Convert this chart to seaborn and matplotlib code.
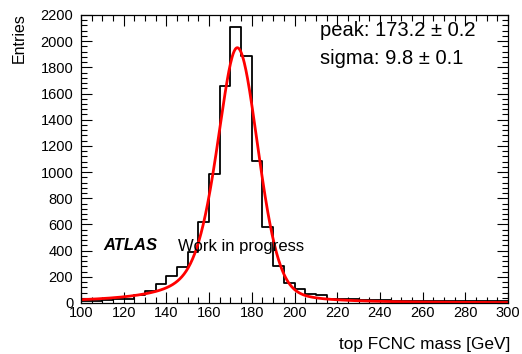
import numpy as np
import pandas as pd
import matplotlib
matplotlib.use("Agg")
import matplotlib.pyplot as plt
import seaborn as sns
from matplotlib.ticker import MultipleLocator

sns.set_theme(style="white")
plt.rcParams['font.family'] = ['Liberation Sans', 'DejaVu Sans']
plt.rcParams['text.color'] = 'black'
plt.rcParams['axes.labelcolor'] = 'black'
plt.rcParams['xtick.color'] = 'black'
plt.rcParams['ytick.color'] = 'black'

# ---- data ----
bin_edges = list(range(100, 305, 5))
bin_counts = [15, 17, 20, 27, 30, 62, 93, 148, 210, 272,
              390, 615, 983, 1660, 2110, 1890, 1087, 583, 285, 150,
              105, 70, 58, 34, 28, 27, 26, 25, 24, 19,
              16, 18, 19, 17, 15, 16, 14, 16, 15, 14]

# fit result (asymmetric pseudo-Voigt)
fit_peak = 173.2
fit_sigma = 9.8
fit_amplitude = 1950
fit_tail_left = 0.54
fit_tail_right = 0.22

peak_text = "peak: 173.2 \u00b1 0.2"
sigma_text = "sigma: 9.8 \u00b1 0.1"
x_label = "top FCNC mass [GeV]"
y_label = "Entries"

centers = [e + 2.5 for e in bin_edges[:-1]]
hist_df = pd.DataFrame({"mass": centers, "count": bin_counts})

xf = np.linspace(100, 300, 801)
gam = fit_sigma * np.sqrt(2 * np.log(2))
dx = xf - fit_peak
G = np.exp(-dx**2 / (2 * fit_sigma**2))
L = 1.0 / (1.0 + (dx / gam)**2)
eta = np.where(dx < 0, fit_tail_left, fit_tail_right)
fit_df = pd.DataFrame({"mass": xf, "fit": fit_amplitude * (eta * L + (1 - eta) * G)})

fig = plt.figure(figsize=(5.22, 3.54), dpi=100)
ax = fig.add_axes([81/522, 1-303/354, 427/522, 288/354])

sns.histplot(data=hist_df, x="mass", weights="count", bins=bin_edges,
             element="step", fill=False, color="black", linewidth=1.3, ax=ax)
sns.lineplot(data=fit_df, x="mass", y="fit", color="#ff0000", linewidth=2.0, ax=ax)

ax.set_xlim(100, 300)
ax.set_ylim(0, 2200)
ax.set_xlabel("")
ax.set_ylabel("")
ax.xaxis.set_major_locator(MultipleLocator(20))
ax.xaxis.set_minor_locator(MultipleLocator(5))
ax.yaxis.set_major_locator(MultipleLocator(200))
ax.yaxis.set_minor_locator(MultipleLocator(40))
ax.tick_params(which="both", direction="in", top=True, right=True,
               bottom=True, left=True, colors="black", labelsize=10.5)
ax.tick_params(which="major", length=8, width=0.8)
ax.tick_params(which="minor", length=4, width=0.8)
ax.tick_params(axis="x", which="both", pad=2.5)
ax.tick_params(axis="y", which="both", pad=5.5)
for s in ax.spines.values():
    s.set_color("black")
    s.set_linewidth(0.9)

fig.text(510/522, 1-345/354, x_label, ha="right", va="center", fontsize=12.4)
fig.text(19/522, 1-13/354, y_label, ha="center", va="top", rotation=90, fontsize=11.5)

fig.text(320/522, 1-36/354, peak_text, ha="left", va="baseline", fontsize=14.5)
fig.text(320/522, 1-64/354, sigma_text, ha="left", va="baseline", fontsize=14.5)
fig.text(103/522, 1-246/354, "ATLAS", ha="left", va="center", fontsize=12,
         fontweight="bold", fontstyle="italic")
fig.text(178/522, 1-246/354, "Work in progress", ha="left", va="center", fontsize=12)

fig.savefig("out.png", dpi=100)
